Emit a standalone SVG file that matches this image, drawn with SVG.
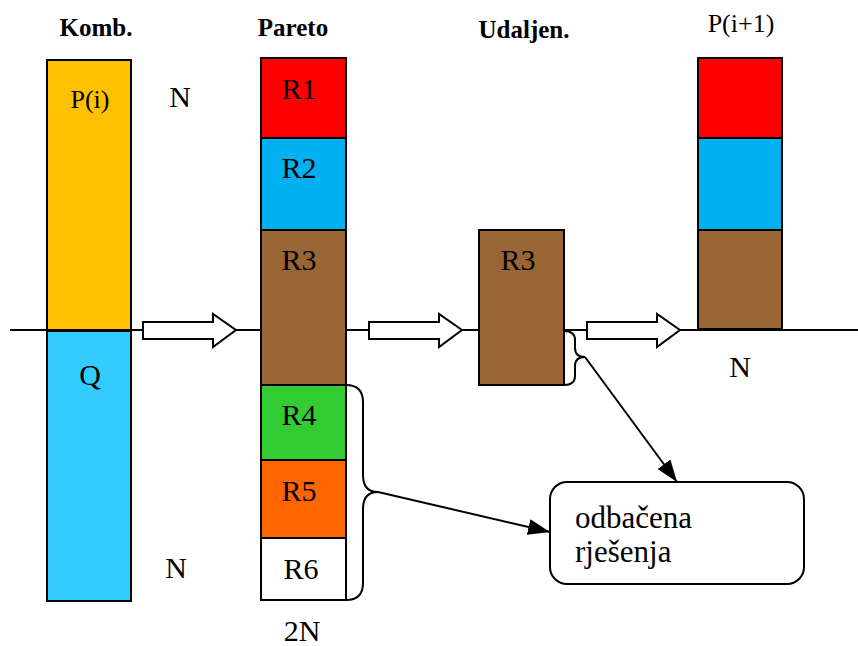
<svg xmlns="http://www.w3.org/2000/svg" width="858" height="646" viewBox="0 0 858 646">
<style>
  .t{font-family:"Liberation Serif","Times New Roman",serif;fill:#000}
  .h{font-weight:bold;font-size:25px}
  .l{font-size:30px}
  .m{font-size:26px}
  .o{font-size:31px}
  .bx{stroke:#000;stroke-width:2}
  .ln{stroke:#000;stroke-width:2;fill:none}
  .ba{fill:#fff;stroke:#000;stroke-width:2;stroke-linejoin:miter}
</style>
<defs>
  <marker id="ah2" viewBox="0 0 22 16" refX="22" refY="8" markerWidth="22" markerHeight="16" markerUnits="userSpaceOnUse" orient="auto">
    <path d="M0,0 L22,8 L0,16 z" fill="#000"/>
  </marker>
</defs>
<rect width="858" height="646" fill="#fff"/>

<g id="axis">
  <line x1="10" y1="330" x2="858" y2="330" class="ln"/>
</g>

<g id="titles">
  <text class="t h" x="96" y="36" text-anchor="middle">Komb.</text>
  <text class="t h" x="293" y="36" text-anchor="middle">Pareto</text>
  <text class="t h" x="524" y="38" text-anchor="middle">Udaljen.</text>
  <text class="t m" x="741" y="32" text-anchor="middle">P(i+1)</text>
</g>

<g id="komb">
  <rect class="bx" x="47" y="60" width="84" height="270" fill="#FFC000"/>
  <rect class="bx" x="47" y="331" width="84" height="270" fill="#33CCFF"/>
  <text class="t m" x="90" y="108" text-anchor="middle">P(i)</text>
  <text class="t l" x="90" y="385" text-anchor="middle">Q</text>
</g>

<g id="labelsN">
  <text class="t l" x="180" y="107" text-anchor="middle">N</text>
  <text class="t l" x="176" y="578" text-anchor="middle">N</text>
  <text class="t l" x="302" y="641" text-anchor="middle">2N</text>
  <text class="t l" x="740" y="377" text-anchor="middle">N</text>
</g>

<g id="pareto">
  <rect class="bx" x="261" y="58" width="85" height="80" fill="#FF0000"/>
  <rect class="bx" x="261" y="138" width="85" height="92" fill="#00B0F0"/>
  <rect class="bx" x="261" y="230" width="85" height="155" fill="#996633"/>
  <rect class="bx" x="261" y="385" width="85" height="75" fill="#33CC33"/>
  <rect class="bx" x="261" y="460" width="85" height="78" fill="#FF6600"/>
  <rect class="bx" x="261" y="538" width="85" height="62" fill="#FFFFFF"/>
  <text class="t l" x="299" y="99" text-anchor="middle">R1</text>
  <text class="t l" x="299" y="178" text-anchor="middle">R2</text>
  <text class="t l" x="299" y="270" text-anchor="middle">R3</text>
  <text class="t l" x="299" y="425" text-anchor="middle">R4</text>
  <text class="t l" x="299" y="501" text-anchor="middle">R5</text>
  <text class="t l" x="301" y="579" text-anchor="middle">R6</text>
</g>

<g id="udaljen">
  <rect class="bx" x="479" y="230" width="85" height="155" fill="#996633"/>
  <text class="t l" x="518" y="270" text-anchor="middle">R3</text>
</g>

<g id="pnext">
  <rect class="bx" x="698" y="58" width="84" height="80" fill="#FF0000"/>
  <rect class="bx" x="698" y="138" width="84" height="92" fill="#00B0F0"/>
  <rect class="bx" x="698" y="230" width="84" height="99" fill="#996633"/>
</g>

<g id="odbacena">
  <rect x="550" y="482" width="254" height="102" rx="17" ry="17" fill="#fff" stroke="#000" stroke-width="2"/>
  <text class="t o" x="575" y="528">odbačena</text>
  <text class="t o" x="575" y="562">rješenja</text>
</g>

<g id="connectors">
  <polygon class="ba" points="143,322 213,322 213,314 236,330 213,347 213,339 143,339"/>
  <polygon class="ba" points="369,322 439,322 439,314 462,330 439,347 439,339 369,339"/>
  <polygon class="ba" points="587,322 657,322 657,314 680,330 657,347 657,339 587,339"/>
  <path class="ln" d="M564,331 Q575,331 575,340 L575,348 Q575,357 585,357 Q575,357 575,366 L575,376 Q575,385 564,385"/>
  <path class="ln" d="M346,385 Q363,385 363,402 L363,475 Q363,492 378,492 Q363,492 363,509 L363,583 Q363,600 346,600"/>
  <line class="ln" x1="585" y1="357" x2="677" y2="482" stroke-width="2.5" marker-end="url(#ah2)"/>
  <line class="ln" x1="378" y1="492" x2="550" y2="532" stroke-width="2.5" marker-end="url(#ah2)"/>
</g>
</svg>
